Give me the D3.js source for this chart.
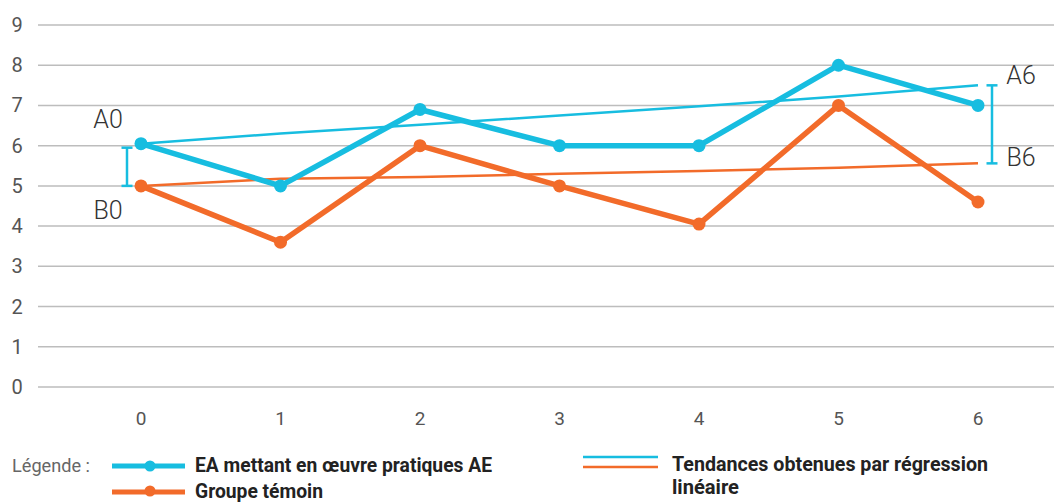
<!DOCTYPE html>
<html>
<head>
<meta charset="utf-8">
<style>
body { margin: 0; background: #fff; }
svg text { font-family: Roboto, "Liberation Sans", sans-serif; }
</style>
<script src="https://cdnjs.cloudflare.com/ajax/libs/d3/7.8.5/d3.min.js"></script>
</head>
<body>
<svg width="1054" height="503"></svg>
<script>
// data
var xValues = [0, 1, 2, 3, 4, 5, 6];
var yTicks = [0, 1, 2, 3, 4, 5, 6, 7, 8, 9];
var groupA = [6.05, 5, 6.9, 6, 6, 8, 7];          // EA mettant en oeuvre pratiques AE
var groupB = [5, 3.6, 6, 5, 4.05, 7, 4.6];         // Groupe témoin
var trendA = [6.05, 6.3, 6.52, 6.75, 6.98, 7.22, 7.5];
var trendB = [5.0, 5.18, 5.22, 5.3, 5.37, 5.45, 5.56];

var blue = "#17bde0";
var orange = "#f26b2a";

var svg = d3.select("svg");

var x = d3.scaleLinear().domain([0, 6]).range([141, 978]);
var y = d3.scaleLinear().domain([0, 9]).range([387, 25]);

// gridlines
svg.append("g")
  .selectAll("line")
  .data(yTicks)
  .enter()
  .append("line")
  .attr("x1", 38).attr("x2", 1054)
  .attr("y1", d => y(d)).attr("y2", d => y(d))
  .attr("stroke", "#bdbdbd")
  .attr("stroke-width", 1.5);

// y labels
svg.append("g")
  .selectAll("text")
  .data(yTicks)
  .enter()
  .append("text")
  .attr("x", 17)
  .attr("y", d => y(d) + 7)
  .attr("text-anchor", "middle")
  .attr("font-size", 20)
  .attr("fill", "#555")
  .text(d => d);

// x labels
svg.append("g")
  .selectAll("text")
  .data(xValues)
  .enter()
  .append("text")
  .attr("x", d => x(d))
  .attr("y", 425)
  .attr("text-anchor", "middle")
  .attr("font-size", 19)
  .attr("fill", "#555")
  .text(d => d);

var line = d3.line()
  .x((d, i) => x(xValues[i]))
  .y(d => y(d));

// trend lines
svg.append("path").attr("d", line(trendA))
  .attr("fill", "none").attr("stroke", blue).attr("stroke-width", 2.5);
svg.append("path").attr("d", line(trendB))
  .attr("fill", "none").attr("stroke", orange).attr("stroke-width", 2.5);

// main series
function series(vals, col) {
  svg.append("path").attr("d", line(vals))
    .attr("fill", "none").attr("stroke", col)
    .attr("stroke-width", 5.5).attr("stroke-linejoin", "round");
  svg.append("g").selectAll("circle")
    .data(vals).enter().append("circle")
    .attr("cx", (d, i) => x(xValues[i]))
    .attr("cy", d => y(d))
    .attr("r", 6.5)
    .attr("fill", col);
}
series(groupB, orange);
series(groupA, blue);

// gap brackets
function bracket(xpos, top, bottom) {
  var g = svg.append("g").attr("stroke", blue).attr("stroke-width", 2.5);
  g.append("line").attr("x1", xpos).attr("x2", xpos).attr("y1", y(top)).attr("y2", y(bottom));
  g.append("line").attr("x1", xpos - 5.5).attr("x2", xpos + 5.5).attr("y1", y(top)).attr("y2", y(top));
  g.append("line").attr("x1", xpos - 5.5).attr("x2", xpos + 5.5).attr("y1", y(bottom)).attr("y2", y(bottom));
}
bracket(x(0) - 14, groupA[0] - 0.1, groupB[0]);
bracket(x(6) + 14, trendA[6], trendB[6]);

function label(t, xx, yy) {
  svg.append("text").attr("x", xx).attr("y", yy)
    .attr("text-anchor", "middle")
    .attr("font-size", 25).attr("font-weight", 300)
    .attr("fill", "#333").text(t);
}
label("A0", x(0) - 33, y(groupA[0]) - 16);
label("B0", x(0) - 33, y(groupB[0]) + 33);
label("A6", x(6) + 43, y(trendA[6]) - 1);
label("B6", x(6) + 43, y(trendB[6]) + 3);

// legend
var leg = svg.append("g");
function legText(t, xx, yy, w, bold) {
  leg.append("text").attr("x", xx).attr("y", yy)
    .attr("font-size", bold ? 21 : 18)
    .attr("font-weight", bold ? "bold" : "normal")
    .attr("fill", bold ? "#222" : "#666")
    .attr("textLength", w).attr("lengthAdjust", "spacingAndGlyphs")
    .text(t);
}
legText("Légende :", 12, 472, 78, false);

leg.append("line").attr("x1", 112).attr("x2", 185).attr("y1", 466).attr("y2", 466)
  .attr("stroke", blue).attr("stroke-width", 5);
leg.append("circle").attr("cx", 150).attr("cy", 466).attr("r", 5.5).attr("fill", blue);
leg.append("line").attr("x1", 112).attr("x2", 185).attr("y1", 492).attr("y2", 492)
  .attr("stroke", orange).attr("stroke-width", 5);
leg.append("circle").attr("cx", 150).attr("cy", 491).attr("r", 5.5).attr("fill", orange);

legText("EA mettant en œuvre pratiques AE", 195, 472, 297, true);
legText("Groupe témoin", 195, 498, 128, true);

leg.append("line").attr("x1", 583).attr("x2", 658).attr("y1", 457).attr("y2", 457)
  .attr("stroke", blue).attr("stroke-width", 2.5);
leg.append("line").attr("x1", 583).attr("x2", 658).attr("y1", 467).attr("y2", 467)
  .attr("stroke", orange).attr("stroke-width", 2.5);
legText("Tendances obtenues par régression", 672, 471, 316, true);
legText("linéaire", 672, 494, 67, true);
</script>
</body>
</html>
